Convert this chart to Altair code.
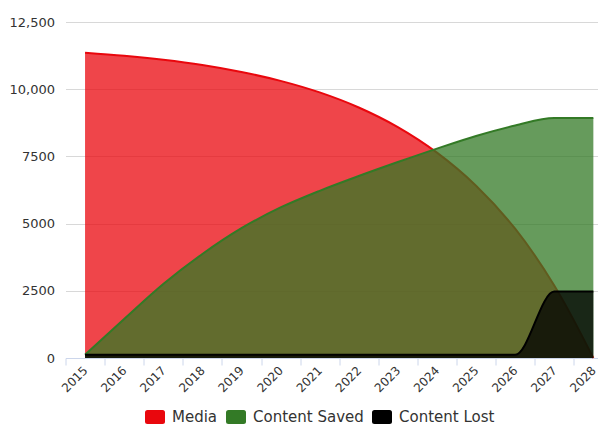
import altair as alt
import pandas as pd

years = list(range(2015, 2029))
media = [11360, 11245, 11095, 10900, 10640, 10310, 9880, 9320, 8590, 7640, 6410, 4810, 2700, 0]
saved = [120, 1450, 2750, 3870, 4830, 5600, 6220, 6770, 7290, 7790, 8260, 8650, 8930, 8930]
lost = [120] * 12 + [2470, 2470]

series_names = ["Media", "Content Saved", "Content Lost"]
series_colors = ["#e9070d", "#337a26", "#000000"]
series_curves = ["catmull-rom", "monotone", "monotone"]
y_ticks = [0, 2500, 5000, 7500, 10000, 12500]

rows = []
for name, vals in zip(series_names, [media, saved, lost]):
    for yr, v in zip(years, vals):
        rows.append({"year": yr, "series": name, "value": v})
df = pd.DataFrame(rows)

px_per_year = 39.1
W, H = 532.5, 336
x_dom = [2014.5, 2014.5 + W / px_per_year]

FONT = "DejaVu Sans"
rect_path = ("M-0.75,-0.7 L0.75,-0.7 Q1,-0.7 1,-0.45 L1,0.45 Q1,0.7 0.75,0.7 "
             "L-0.75,0.7 Q-1,0.7 -1,0.45 L-1,-0.45 Q-1,-0.7 -0.75,-0.7 Z")

x_enc = alt.X(
    "year:Q",
    scale=alt.Scale(domain=x_dom, nice=False, zero=False),
    axis=alt.Axis(
        values=years, title=None, grid=False, format="d",
        labelAngle=-45, labelAlign="right", labelBaseline="middle",
        labelFontSize=12, labelColor="#333333", labelFont=FONT,
        tickOffset=-px_per_year / 2, labelOffset=px_per_year / 2,
        tickSize=7, tickColor="#ccd6eb", domainColor="#ccd6eb",
        labelPadding=3, labelFlush=False, labelOverlap=False,
    ),
)
y_enc = alt.Y(
    "value:Q",
    scale=alt.Scale(domain=[0, 12500], nice=False),
    stack=None,
    axis=alt.Axis(
        values=y_ticks, title=None, domain=False, ticks=False,
        gridColor="#d8d8d8", labelFontSize=13, labelColor="#333333",
        labelFont=FONT, labelPadding=11,
        labelExpr="datum.value >= 10000 ? format(datum.value, ',') : format(datum.value, 'd')",
    ),
)
color_enc = alt.Color(
    "series:N",
    scale=alt.Scale(domain=series_names, range=series_colors),
    legend=alt.Legend(
        title=None, orient="none", direction="horizontal",
        legendX=79.5, legendY=385,
        symbolType=rect_path, symbolSize=400, symbolOpacity=1,
        symbolStrokeWidth=0, labelFontSize=15, labelColor="#333333",
        labelFont=FONT, labelOffset=7, columnPadding=8, padding=0,
    ),
)

layers = []
for name, curve in zip(series_names, series_curves):
    base = alt.Chart(df).transform_filter(alt.datum.series == name)
    area = base.mark_area(interpolate=curve, opacity=0.75).encode(
        x=x_enc, y=y_enc, color=color_enc
    )
    line = base.mark_line(interpolate=curve, strokeWidth=2).encode(
        x=x_enc, y=y_enc, color=color_enc
    )
    layers += [area, line]

chart = alt.layer(*layers).properties(
    width=W, height=H,
    autosize=alt.AutoSizeParams(type="none"),
    padding={"left": 57.5, "top": 14, "right": 0, "bottom": 70},
).configure_view(stroke=None)

chart.save("out.html", embed_options={"renderer": "svg", "actions": False})
